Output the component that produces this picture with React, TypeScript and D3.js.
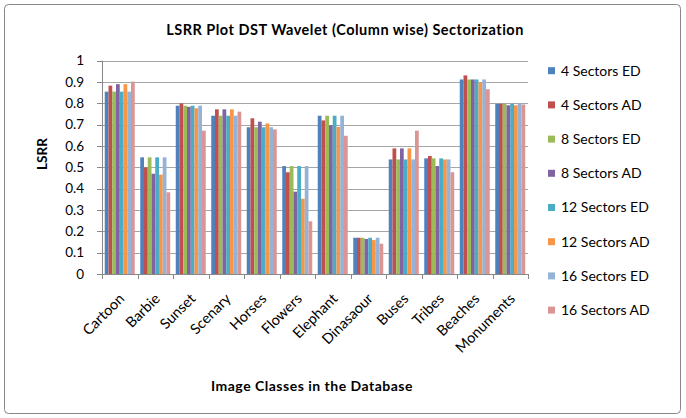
import React from "react";
import * as d3 from "d3";

const categories = ["Cartoon","Barbie","Sunset","Scenary","Horses","Flowers","Elephant","Dinasaour","Buses","Tribes","Beaches","Monuments"];
const seriesNames = ["4 Sectors ED","4 Sectors AD","8 Sectors ED","8 Sectors AD","12 Sectors ED","12 Sectors AD","16 Sectors ED","16 Sectors AD"];
const seriesColors = ["#4F81BD","#C0504D","#9BBB59","#8064A2","#4BACC6","#F79646","#95B3D7","#D99694"];

const s4ED  = [0.855,0.547,0.789,0.742,0.688,0.506,0.742,0.170,0.537,0.542,0.912,0.798];
const s4AD  = [0.883,0.500,0.800,0.772,0.730,0.477,0.720,0.170,0.589,0.553,0.931,0.798];
const s8ED  = [0.855,0.547,0.789,0.742,0.688,0.506,0.742,0.170,0.537,0.542,0.912,0.798];
const s8AD  = [0.890,0.470,0.784,0.772,0.714,0.386,0.698,0.164,0.589,0.506,0.912,0.791];
const s12ED = [0.855,0.547,0.789,0.742,0.688,0.506,0.742,0.170,0.537,0.542,0.912,0.798];
const s12AD = [0.890,0.466,0.777,0.772,0.706,0.353,0.690,0.159,0.589,0.537,0.900,0.791];
const s16ED = [0.855,0.547,0.789,0.742,0.688,0.506,0.742,0.170,0.537,0.537,0.912,0.800];
const s16AD = [0.902,0.383,0.672,0.761,0.678,0.247,0.648,0.142,0.672,0.477,0.866,0.795];
const seriesValues = [s4ED,s4AD,s8ED,s8AD,s12ED,s12AD,s16ED,s16AD];

const yTicks = [0,0.1,0.2,0.3,0.4,0.5,0.6,0.7,0.8,0.9,1];

const FONT = "Lato, 'Open Sans', sans-serif";

export default function App() {
  const left = 102, right = 528, top = 60.7, bottom = 274;
  const x = d3.scaleBand<string>().domain(categories).range([left, right]).paddingInner(0.155).paddingOuter(0.0775);
  const xs = d3.scaleBand<string>().domain(seriesNames).range([0, x.bandwidth()]).padding(0);
  const y = d3.scaleLinear().domain([0, 1]).range([bottom, top]);
  const step = x.step();
  const boundaries = d3.range(categories.length + 1).map(i => left + i * step);

  return (
    <svg width={686} height={418} style={{ position: "absolute", left: 0, top: 0 }} fontFamily={FONT}>
      <rect x={0} y={0} width={686} height={418} fill="#fff" />
      <rect x={4.5} y={4.5} width={676} height={409} rx={4} fill="#fff" stroke="#888" strokeWidth={1} />
      <text x={345} y={35} textAnchor="middle" fontSize={14.5} letterSpacing={0.5} fontWeight="bold" fill="#000">LSRR Plot DST Wavelet (Column wise) Sectorization</text>
      {yTicks.map(t => (
        <line key={"g" + t} x1={left} x2={right} y1={Math.round(y(t)) + 0.5} y2={Math.round(y(t)) + 0.5} stroke="#A6A6A6" strokeWidth={1} />
      ))}
      {seriesValues.map((vals, si) => (
        <g key={si}>
          {vals.map((v, ci) => (
            <rect key={ci} x={(x(categories[ci]) as number) + (xs(seriesNames[si]) as number)} y={y(v)} width={xs.bandwidth()} height={bottom - y(v)} fill={seriesColors[si]} />
          ))}
        </g>
      ))}
      <line x1={left + 0.5} x2={left + 0.5} y1={top} y2={bottom} stroke="#888" />
      <line x1={left} x2={right} y1={bottom + 0.5} y2={bottom + 0.5} stroke="#888" />
      {yTicks.map(t => (
        <g key={"t" + t}>
          <line x1={left - 5} x2={left} y1={Math.round(y(t)) + 0.5} y2={Math.round(y(t)) + 0.5} stroke="#888" />
          <text x={84} y={y(t)} dy="0.35em" textAnchor="end" fontSize={13.5} fill="#000">{String(t)}</text>
        </g>
      ))}
      {boundaries.map((b, i) => (
        <line key={"b" + i} x1={Math.round(b) + 0.5} x2={Math.round(b) + 0.5} y1={bottom} y2={bottom + 5} stroke="#888" />
      ))}
      {categories.map(c => {
        const cx = (x(c) as number) + x.bandwidth() / 2;
        return (
          <text key={c} transform={`translate(${cx + 2},${bottom + 22}) rotate(-45)`} textAnchor="end" dy="0.35em" fontSize={14.5} fill="#000">{c}</text>
        );
      })}
      <text transform={`translate(47,154) rotate(-90)`} textAnchor="middle" fontSize={13.5} fontWeight="bold" fill="#000">LSRR</text>
      <text x={312} y={391} textAnchor="middle" fontSize={14} letterSpacing={0.5} fontWeight="bold" fill="#000">Image Classes  in the Database</text>
      {seriesNames.map((n, i) => {
        const ly = 70.7 + i * 34.2;
        return (
          <g key={n}>
            <rect x={548} y={ly - 3.5} width={7} height={7} fill={seriesColors[i]} />
            <text x={561} y={ly} dy="0.35em" fontSize={14} fill="#000">{n}</text>
          </g>
        );
      })}
    </svg>
  );
}
